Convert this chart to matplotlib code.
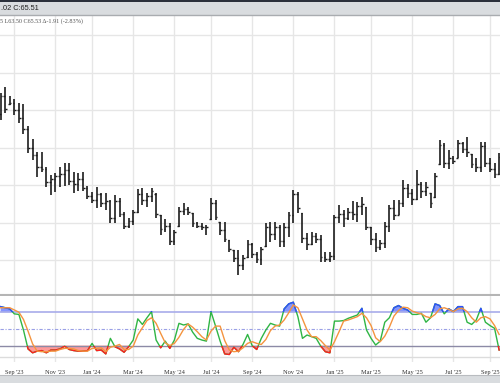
import matplotlib.pyplot as plt
import matplotlib.patches as mpatches
import numpy as np
import pandas as pd

# weekly bars, first bar = week of Aug 14 2023
weeks = pd.date_range('2023-08-14', periods=110, freq='W-MON')

opens = [74.5, 76.9, 75.9, 76.0, 75.0, 74.0, 72.5, 70.0, 69.0, 67.5,
         67.2, 65.5, 65.8, 66.2, 66.5, 67.0, 65.6, 65.2, 65.9, 64.7,
         63.6, 63.1, 63.9, 62.6, 62.9, 60.6, 62.9, 61.2, 59.6, 60.2,
         61.5, 63.8, 63.0, 63.6, 63.9, 61.0, 59.2, 59.6, 57.6, 59.6,
         61.6, 61.8, 61.3, 60.0, 59.6, 59.5, 60.5, 62.6, 60.1, 59.0,
         57.7, 56.4, 55.3, 54.4, 55.4, 57.2, 55.8, 55.2, 56.9, 59.4,
         58.5, 59.5, 57.6, 59.4, 61.0, 63.8, 61.3, 58.0, 57.2, 58.3,
         57.8, 55.4, 55.2, 55.6, 60.8, 61.2, 60.6, 61.5, 61.2, 62.2,
         62.1, 59.4, 57.8, 56.8, 57.3, 59.6, 62.0, 61.1, 62.6, 64.6,
         64.0, 63.2, 65.2, 64.3, 64.0, 63.4, 67.8, 70.4, 68.0, 68.6,
         68.7, 70.6, 69.8, 69.2, 67.8, 67.4, 70.3, 68.0, 67.2, 66.5]
highs = [77.33, 78.13, 76.93, 76.53, 76.00, 75.87, 72.93, 71.20, 69.47, 69.47,
         67.47, 66.40, 66.67, 67.47, 68.00, 68.00, 66.80, 66.67, 66.80, 64.93,
         64.13, 64.80, 64.00, 64.00, 63.07, 63.73, 63.33, 61.47, 60.67, 61.73,
         64.53, 64.67, 64.00, 64.67, 64.00, 61.07, 60.53, 60.00, 59.07, 62.13,
         62.67, 62.13, 61.33, 60.13, 60.00, 59.73, 63.33, 63.07, 60.13, 60.13,
         57.73, 56.40, 56.40, 55.73, 57.73, 57.33, 56.13, 56.80, 60.00, 60.13,
         60.13, 59.73, 60.00, 61.47, 64.40, 64.13, 61.33, 58.67, 58.80, 58.67,
         58.40, 56.13, 56.13, 61.07, 62.40, 61.73, 62.00, 62.93, 62.80, 63.47,
         62.13, 59.47, 58.67, 57.73, 60.13, 62.40, 63.07, 63.07, 65.73, 65.20,
         64.53, 67.07, 65.47, 65.47, 64.00, 66.67, 71.07, 70.67, 69.73, 68.93,
         71.07, 70.80, 71.47, 69.20, 68.67, 70.80, 70.80, 68.67, 68.00, 69.33]
lows = [73.73, 74.67, 75.73, 74.40, 73.33, 71.87, 69.33, 68.40, 66.13, 66.80,
        64.80, 63.73, 64.13, 64.80, 64.93, 65.07, 64.00, 64.27, 64.27, 63.20,
        62.67, 62.00, 62.13, 61.73, 60.00, 60.00, 60.80, 59.20, 59.33, 59.73,
        61.33, 62.40, 62.13, 62.80, 60.67, 58.40, 58.80, 57.07, 57.07, 59.47,
        61.07, 61.07, 59.47, 59.33, 59.07, 58.40, 60.40, 60.40, 58.40, 57.47,
        56.13, 54.80, 53.07, 53.73, 55.33, 55.33, 54.67, 54.40, 56.80, 57.47,
        57.73, 56.80, 56.80, 58.13, 60.00, 61.33, 57.33, 56.40, 57.07, 57.33,
        54.80, 54.80, 54.80, 55.07, 60.00, 59.47, 60.40, 60.40, 60.13, 61.07,
        59.07, 57.07, 56.13, 56.40, 56.67, 58.80, 60.40, 61.07, 62.13, 63.33,
        62.40, 63.07, 63.33, 63.60, 62.00, 63.33, 67.73, 67.33, 67.20, 67.87,
        68.67, 69.33, 68.80, 67.33, 66.80, 66.80, 67.47, 66.80, 66.00, 66.40]
closes = [76.9, 75.2, 76.0, 75.0, 74.0, 72.5, 70.0, 69.0, 67.5, 67.2,
          65.5, 65.8, 66.2, 66.5, 67.0, 65.6, 65.2, 65.9, 64.7, 63.6,
          63.1, 63.9, 62.6, 62.9, 60.6, 62.9, 61.2, 59.6, 60.2, 61.5,
          63.8, 63.0, 63.6, 64.2, 61.2, 59.2, 59.6, 57.6, 58.8, 61.6,
          61.8, 61.4, 60.0, 59.6, 59.5, 59.4, 62.6, 60.8, 59.0, 57.9,
          56.5, 55.3, 54.4, 55.3, 57.2, 55.8, 55.2, 56.5, 59.4, 58.5,
          59.5, 57.6, 59.4, 61.0, 63.8, 62.0, 58.0, 57.2, 58.3, 57.8,
          55.4, 55.2, 55.6, 60.8, 61.2, 60.6, 61.5, 61.2, 62.2, 62.5,
          59.5, 57.8, 56.8, 57.3, 59.6, 62.0, 61.0, 62.6, 64.6, 64.0,
          63.2, 65.2, 64.3, 64.8, 62.6, 66.3, 70.4, 68.0, 68.6, 68.3,
          70.6, 69.8, 69.4, 67.8, 67.4, 70.3, 68.0, 67.2, 66.5, 68.8]

# stochastic %K and %D
stoch_k = [90, 88, 86, 77, 76, 48, 14, 7, 10, 11,
           7, 12, 12, 14, 19, 13, 11, 10, 10, 11,
           24, 11, 12, 5, 33, 18, 14, 8, 18, 30,
           68, 58, 70, 81, 30, 16, 28, 15, 30, 60,
           57, 59, 44, 33, 30, 28, 81, 55, 28, 5,
           4, 17, 9, 22, 40, 20, 13, 33, 48, 60,
           57, 55, 86, 95, 98, 72, 33, 39, 36, 33,
           19, 9, 7, 64, 64, 65, 69, 72, 75, 87,
           48, 33, 21, 28, 62, 70, 88, 92, 87, 84,
           76, 76, 78, 62, 70, 95, 92, 77, 86, 81,
           90, 90, 62, 58, 66, 87, 62, 56, 51, 12]
stoch_d = [88, 88, 88, 84, 80, 67, 46, 23, 10, 9,
           9, 10, 10, 13, 15, 15, 14, 11, 10, 10,
           15, 15, 16, 9, 17, 19, 22, 13, 13, 19,
           39, 52, 65, 70, 60, 42, 25, 20, 24, 35,
           49, 59, 53, 45, 36, 30, 46, 55, 55, 29,
           12, 9, 10, 16, 24, 27, 24, 22, 31, 47,
           55, 57, 66, 79, 93, 88, 68, 48, 36, 36,
           29, 20, 12, 27, 45, 64, 66, 69, 72, 78,
           70, 56, 34, 27, 37, 53, 73, 83, 89, 88,
           82, 79, 77, 72, 70, 76, 86, 88, 85, 81,
           86, 87, 81, 70, 62, 70, 72, 68, 56, 40]

x = np.arange(len(weeks))
k = np.array(stoch_k, dtype=float)
d = np.array(stoch_d, dtype=float)

# first week of every other month -> label
tick_pos = [i for i in range(1, len(weeks))
            if weeks[i].month != weeks[i - 1].month and weeks[i].month % 2 == 1]
tick_lab = [weeks[i].strftime("%b '%y") for i in tick_pos]

W, H = 500, 383
fig = plt.figure(figsize=(5, 3.83), dpi=100)
fig.patch.set_facecolor('white')

def fy(py):
    return 1 - py / H

# header strip and footer strip
fig.patches.append(mpatches.Rectangle((0, fy(15)), 1, 15 / H, transform=fig.transFigure,
                                      facecolor='#d9dcdf', edgecolor='none', zorder=0))
fig.patches.append(mpatches.Rectangle((0, fy(1.5)), 1, 1.5 / H, transform=fig.transFigure,
                                      facecolor='#2b303b', edgecolor='none', zorder=1))
fig.patches.append(mpatches.Rectangle((0, 0), 1, 8 / H, transform=fig.transFigure,
                                      facecolor='#d9dcdf', edgecolor='none', zorder=0))
fig.add_artist(plt.Line2D([0, 1], [fy(15), fy(15)], transform=fig.transFigure,
                          color='#a9acb0', lw=1))
fig.add_artist(plt.Line2D([0, 1], [8 / H, 8 / H], transform=fig.transFigure,
                          color='#b9bcc0', lw=0.8))

xlim = (-0.13, 109.19)

# price panel
ax = fig.add_axes([0, fy(295.5), 1, (295.5 - 15) / H])
ax.set_xlim(*xlim)
ax.set_ylim(50.33, 87.73)
ax.set_yticks([55, 60, 65, 70, 75, 80, 85])
ax.set_xticks(tick_pos)
ax.grid(True, color='#e6e6e6', lw=1)
ax.set_axisbelow(True)
ax.tick_params(left=False, bottom=False, labelleft=False, labelbottom=False)
for s in ax.spines.values():
    s.set_visible(False)
ax.axhline(50.33, color='#b5b5b5', lw=1.5)

ax.vlines(x, lows, highs, color='#1c1c1c', lw=1.2)
ax.hlines(opens, x - 0.38, x, color='#1c1c1c', lw=1.0)
ax.hlines(closes, x, x + 0.38, color='#1c1c1c', lw=1.0)

fig.text(0.002, fy(8), '.02 C:65.51', fontsize=5.3, family='Liberation Sans',
         color='#222222', va='center', ha='left')
fig.text(0.0, fy(21), '5 L63.50 C65.53 \u0394-1.91 (-2.83%)', fontsize=4.4,
         family='Liberation Serif', color='#555555', va='center', ha='left')

# stochastic panel
ax2 = fig.add_axes([0, fy(362), 1, (362 - 295.5) / H])
ax2.set_xlim(*xlim)
ax2.set_ylim(-9.5, 110)
ax2.set_xticks(tick_pos)
ax2.set_xticklabels(tick_lab, family='Liberation Serif', fontsize=4.6, color='#333333')
ax2.set_yticks([])
ax2.grid(True, axis='x', color='#e6e6e6', lw=1)
ax2.set_axisbelow(True)
ax2.tick_params(left=False, bottom=False, pad=2)
for s in ax2.spines.values():
    s.set_visible(False)

ax2.axhline(0, color='#dcdcdc', lw=1)
ax2.axhline(80, color='#a8acea', lw=1.2)
ax2.axhline(20, color='#8c8aa6', lw=1)
ax2.axhline(50, color='#9aa0e6', lw=0.8, ls=(0, (3, 1.5, 1, 1.5)))

ax2.fill_between(x, k, 20, where=k < 20, interpolate=True, color='#ff9a9a', lw=0)
ax2.fill_between(x, k, 80, where=k > 80, interpolate=True, color='#8494ff', lw=0)

ax2.plot(x, k, color='#2fb544', lw=1.0)
lr, = ax2.plot(x, k, color='#ff1f1f', lw=1.0)
lr.set_clip_path(mpatches.Rectangle((-5, -50), 130, 70, transform=ax2.transData))
lb, = ax2.plot(x, k, color='#2f4cff', lw=1.0)
lb.set_clip_path(mpatches.Rectangle((-5, 80), 130, 70, transform=ax2.transData))
ax2.plot(x, d, color='#f4943f', lw=1.0)

fig.savefig('out.png', dpi=100)
